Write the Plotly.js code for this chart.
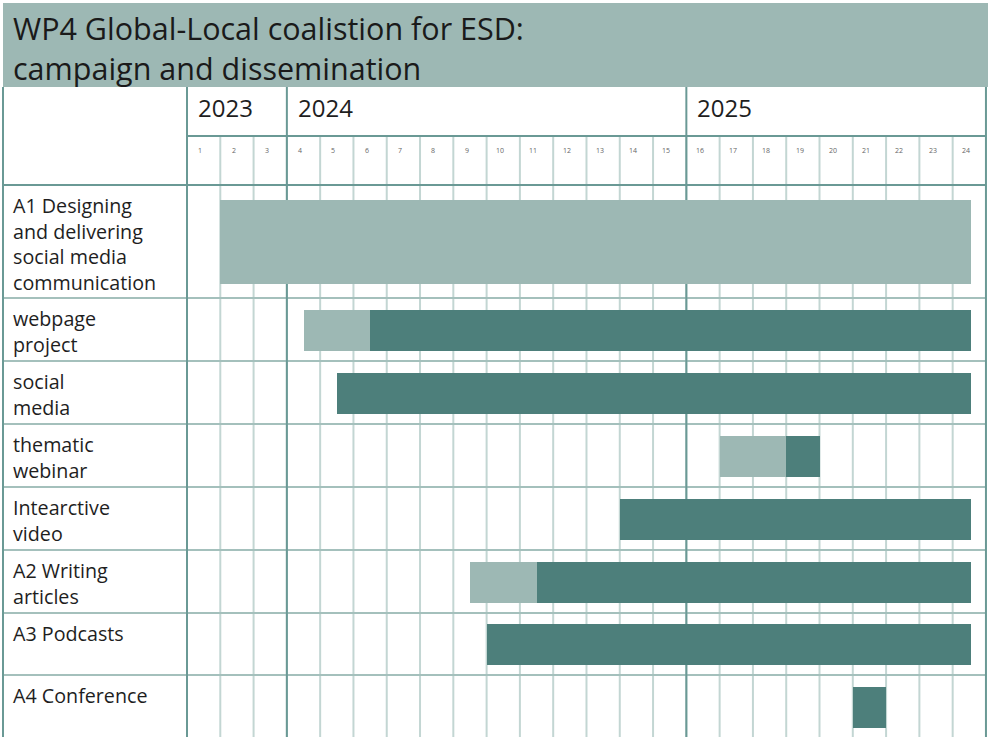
<!DOCTYPE html>
<html>
<head>
<meta charset="utf-8">
<script src="https://cdn.plot.ly/plotly-3.0.1.min.js"></script>
<style>html,body{margin:0;padding:0;background:#fff;}#chart{width:988px;height:737px;}</style>
</head>
<body>
<div id="chart"></div>
<script>
// ---- data ----
const titleText = "WP4 Global-Local coalistion for ESD:<br>campaign and dissemination";
const years = ["2023", "2024", "2025"];
const yearFirstMonth = [1, 4, 16];
const monthLabels = ["1","2","3","4","5","6","7","8","9","10","11","12","13","14","15","16","17","18","19","20","21","22","23","24"];
const tasks = [
  "A1 Designing<br>and delivering<br>social media<br>communication",
  "webpage<br>project",
  "social<br>media",
  "thematic<br>webinar",
  "Intearctive<br>video",
  "A2 Writing<br>articles",
  "A3 Podcasts",
  "A4 Conference"
];
// light (preparation) segment, in months from start of month 1
const lightStart = [1, 3.5, null, 16, null, 8.5, null, null];
const lightEnd   = [23.55, 5.5, null, 18, null, 10.5, null, null];
// dark (active) segment
const darkStart  = [null, 5.5, 4.5, 18, 13, 10.5, 9, 20];
const darkEnd    = [null, 23.55, 23.55, 19, 23.55, 23.55, 23.55, 21];

// ---- layout constants (pixels) ----
const W = 988, H = 737, TOP = 87;
const colW = 33.29, gridX0 = 187;           // month grid origin in px
const px2u = p => (p - gridX0) / colW;
const headerYear = 49, headerMonth = 49;
const rowH = [113, 63, 63, 63, 63, 63, 62, 63];
const barH = [84, 41, 41, 41, 41, 41, 41, 41];

const rowTop = [];
let acc = headerYear + headerMonth;
rowH.forEach(h => { rowTop.push(acc); acc += h; });
const rowCenter = rowTop.map((t, i) => t + rowH[i] / 2 + 0.5);

const LIGHT = "#9db8b4", DARK = "#4d7f7b";
const MAJOR = "#6a9995", MINOR = "#c3d6d3", HROW = "#a4c0bc";
const FONT = "Open Sans, sans-serif";

function segTrace(starts, ends, color) {
  const x = [], base = [], y = [], w = [];
  starts.forEach((s, i) => {
    if (s === null) return;
    base.push(s); x.push(ends[i] - s); y.push(rowCenter[i]); w.push(barH[i]);
  });
  return {type: "bar", orientation: "h", x, base, y, width: w,
          marker: {color, line: {width: 0}}, hoverinfo: "skip", showlegend: false};
}

const traces = [segTrace(lightStart, lightEnd, LIGHT), segTrace(darkStart, darkEnd, DARK)];

const shapes = [];
const yBottom = 700;
const leftU = px2u(3), endU = monthLabels.length;
// title background
shapes.push({type: "rect", xref: "paper", yref: "paper", x0: 3 / W, x1: 1,
  y0: 1, y1: 1 + (TOP - 3) / (H - TOP), fillcolor: LIGHT, line: {width: 0}, layer: "below"});
// minor verticals (month row + body)
for (let m = 1; m < endU; m++) {
  shapes.push({type: "line", xref: "x", yref: "y", x0: m, x1: m, y0: headerYear, y1: yBottom,
    line: {color: MINOR, width: 2}, layer: "below"});
}
// horizontal row separators
rowTop.slice(1).forEach(t => shapes.push({type: "line", xref: "x", yref: "y", x0: leftU, x1: endU,
  y0: t, y1: t, line: {color: HROW, width: 2}, layer: "below"}));
// header lines
shapes.push({type: "line", xref: "x", yref: "y", x0: 0, x1: endU, y0: headerYear, y1: headerYear,
  line: {color: MAJOR, width: 2}, layer: "below"});
shapes.push({type: "line", xref: "x", yref: "y", x0: leftU, x1: endU, y0: rowTop[0], y1: rowTop[0],
  line: {color: MAJOR, width: 2}, layer: "below"});
// major verticals: borders and year boundaries
const majors = [leftU, 0].concat(yearFirstMonth.slice(1).map(m => m - 1)).concat([endU]);
majors.forEach(xv => shapes.push({type: "line", xref: "x", yref: "y", x0: xv, x1: xv, y0: 0, y1: yBottom,
  line: {color: MAJOR, width: 2}, layer: "below"}));

const annotations = [];
// title
annotations.push({text: titleText, xref: "paper", yref: "paper", x: 11 / W, y: 1 + (TOP - 5) / (H - TOP),
  xanchor: "left", yanchor: "top", align: "left", showarrow: false,
  font: {family: FONT, size: 30.5, color: "#1a1a1a"}});
tasks.forEach((t, i) => annotations.push({text: t, xref: "paper", yref: "y", x: 11 / W, y: rowTop[i],
  xanchor: "left", yanchor: "top", align: "left", showarrow: false, yshift: -5,
  font: {family: FONT, size: 19.7, color: "#1e1e1e"}}));
years.forEach((yv, i) => annotations.push({text: yv, xref: "x", yref: "y", x: yearFirstMonth[i] - 1,
  y: 20, xanchor: "left", yanchor: "middle", xshift: 9, showarrow: false,
  font: {family: FONT, size: 24, color: "#1e1e1e"}}));
monthLabels.forEach((m, i) => annotations.push({text: m, xref: "x", yref: "y", x: i + 0.4,
  y: 63, xanchor: "center", yanchor: "middle", showarrow: false,
  font: {family: FONT, size: 7, color: "#666"}}));

const layout = {
  width: W, height: H,
  margin: {l: 0, r: 0, t: TOP, b: 0},
  paper_bgcolor: "#fff", plot_bgcolor: "#fff",
  barmode: "overlay", bargap: 0,
  xaxis: {range: [px2u(0), px2u(W)], visible: false, fixedrange: true},
  yaxis: {range: [H - TOP, 0], visible: false, fixedrange: true},
  shapes, annotations, hovermode: false, showlegend: false
};
Plotly.newPlot("chart", traces, layout, {displayModeBar: false, staticPlot: true});
</script>
</body>
</html>
